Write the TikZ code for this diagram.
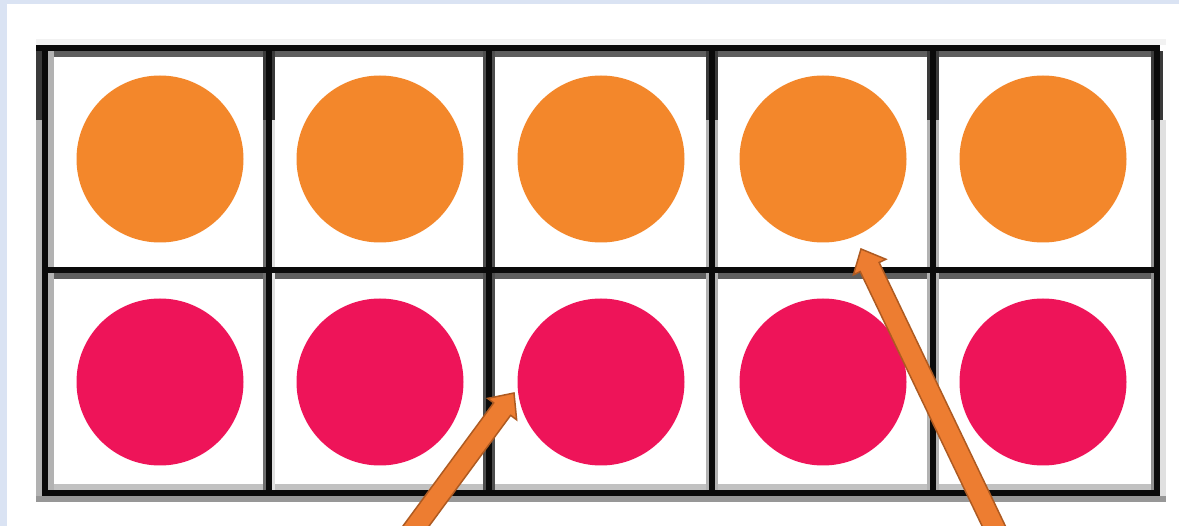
\documentclass[tikz,border=0pt]{standalone}
\usetikzlibrary{calc}
\definecolor{bluebg}{HTML}{DAE3F3}
\definecolor{dotorange}{HTML}{F3872B}
\definecolor{dotpink}{HTML}{EE1459}
\definecolor{arrfill}{HTML}{ED7D31}
\definecolor{arrline}{HTML}{AE5A21}
\definecolor{gridblack}{HTML}{0A0A0A}
\definecolor{gtopband}{HTML}{F2F2F2}
\definecolor{gdark}{HTML}{3A3A3A}
\definecolor{gmid}{HTML}{5E5E5E}
\definecolor{glight}{HTML}{B2B2B2}
\definecolor{gpale}{HTML}{E0E0E0}
\newcommand{\blockarr}[2]{%
  \filldraw[arrowbody]
    ($(#2)!10.5pt!90:(#1)$) --
    ($($(#1)!20pt!(#2)$)!10.5pt!-90:(#2)$) --
    ($($(#1)!20pt!(#2)$)!18pt!-90:(#2)$) --
    (#1) --
    ($($(#1)!20pt!(#2)$)!18pt!90:(#2)$) --
    ($($(#1)!20pt!(#2)$)!10.5pt!90:(#2)$) --
    ($(#2)!10.5pt!-90:(#1)$) -- cycle;}
\tikzset{
  dot/.style={circle, inner sep=0pt, minimum size=167pt},
  orangedot/.style={dot, fill=dotorange},
  pinkdot/.style={dot, fill=dotpink},
  arrowbody/.style={fill=arrfill, draw=arrline, line width=1.5pt, line join=miter},
  gridline/.style={fill=gridblack}
}
\begin{document}
\begin{tikzpicture}[x=1pt,y=-1pt]
\useasboundingbox (0,0) rectangle (1179,526);
\fill[white] (0,0) rectangle (1179,526);
\fill[bluebg] (0,0) rectangle (7,526);
\fill[bluebg] (0,0) rectangle (1179,4);
% shadow bands of the horizontal lines
\fill[gtopband] (36,39) rectangle (1166,45);
\fill[gmid] (42,51) rectangle (1160,57);
\fill[gmid] (42,273) rectangle (1160,279);
\fill[glight!80!white] (36,484) rectangle (1166,490);
\fill[glight!85!black] (36,496) rectangle (1166,502);
% shadow bands of the vertical lines
\fill[glight] (36,51) rectangle (54,496);
\fill[gdark] (36,51) rectangle (48,120);
\fill[gmid!90!white] (263,51) rectangle (269,496);
\fill[gpale] (269,51) rectangle (275,496);
\fill[gdark] (263,51) rectangle (275,120);
\fill[gdark!90!white] (483,51) rectangle (495,496);
\fill[glight] (706,51) rectangle (718,496);
\fill[gdark] (706,51) rectangle (718,120);
\fill[glight] (927,51) rectangle (939,496);
\fill[gdark] (927,51) rectangle (939,120);
\fill[gmid!70!white] (1151,51) rectangle (1157,496);
\fill[gpale] (1157,120) rectangle (1166,496);
\fill[gdark] (1151,51) rectangle (1163,120);
% black grid lines
\fill[gridline] (36,45) rectangle (1160,51);
\fill[gridline] (42,267) rectangle (1160,273);
\fill[gridline] (42,490) rectangle (1160,496);
\foreach \xc in {45,269,489,712,933,1157}{
  \fill[gridline] (\xc-3,45) rectangle (\xc+3,496);
}
% counters
\node[orangedot] (o1) at (160,159) {};
\node[orangedot] (o2) at (380,159) {};
\node[orangedot] (o3) at (601,159) {};
\node[orangedot] (o4) at (823,159) {};
\node[orangedot] (o5) at (1043,159) {};
\node[pinkdot] (p1) at (160,382) {};
\node[pinkdot] (p2) at (380,382) {};
\node[pinkdot] (p3) at (601,382) {};
\node[pinkdot] (p4) at (823,382) {};
\node[pinkdot] (p5) at (1043,382) {};
% arrows
\coordinate (t1) at (514,393);
\coordinate (s1) at (391,560);
\coordinate (t2) at (861,249);
\coordinate (s2) at (1010,560);
\blockarr{t1}{s1}
\blockarr{t2}{s2}
\end{tikzpicture}
\end{document}
